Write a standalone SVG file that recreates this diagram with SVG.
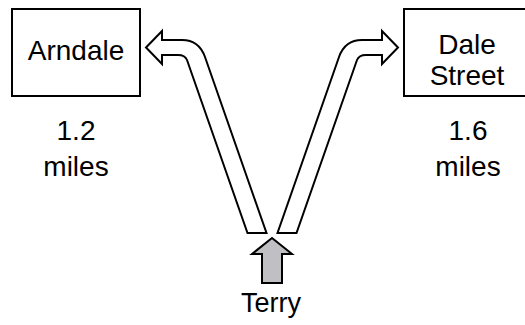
<svg xmlns="http://www.w3.org/2000/svg" width="525" height="325" viewBox="0 0 525 325">
  <style>
    .box { fill: #ffffff; stroke: #000000; stroke-width: 2; }
    .route { fill: #ffffff; stroke: #000000; stroke-width: 2; stroke-linejoin: miter; }
    .start { fill: #c0c0c4; stroke: #000000; stroke-width: 2; }
    text { font-family: "Liberation Sans", Arial, sans-serif; font-size: 28px; fill: #000000; text-anchor: middle; }
  </style>
  <rect width="525" height="325" fill="#ffffff"/>

  <!-- routes from Terry to each destination -->
  <g id="connectors">
    <path class="route" d="M146 47.5 L162 31 L162 40 L182 40 Q199 40 205 57 L266.5 233 L247.5 233 L187 60 Q185 55 178 55 L162 55 L162 64 Z"/>
    <path class="route" d="M398 47.5 L382 31 L382 40 L362 40 Q345 40 339 57 L277.5 233 L296.5 233 L357 60 Q359 55 366 55 L382 55 L382 64 Z"/>
  </g>

  <g id="arndale">
    <rect class="box" x="12" y="9" width="128" height="87"/>
    <text x="76" y="60">Arndale</text>
    <text x="76" y="140">1.2</text>
    <text x="76" y="176">miles</text>
  </g>

  <g id="dale-street">
    <rect class="box" x="404" y="9" width="128" height="87"/>
    <text x="467" y="54">Dale</text>
    <text x="467" y="85">Street</text>
    <text x="468" y="140">1.6</text>
    <text x="468" y="176">miles</text>
  </g>

  <g id="terry">
    <path class="start" d="M272 238 L292 254 L282 254 L282 283 L262 283 L262 254 L252 254 Z"/>
    <text x="271" y="312" style="font-size:27px">Terry</text>
  </g>
</svg>
